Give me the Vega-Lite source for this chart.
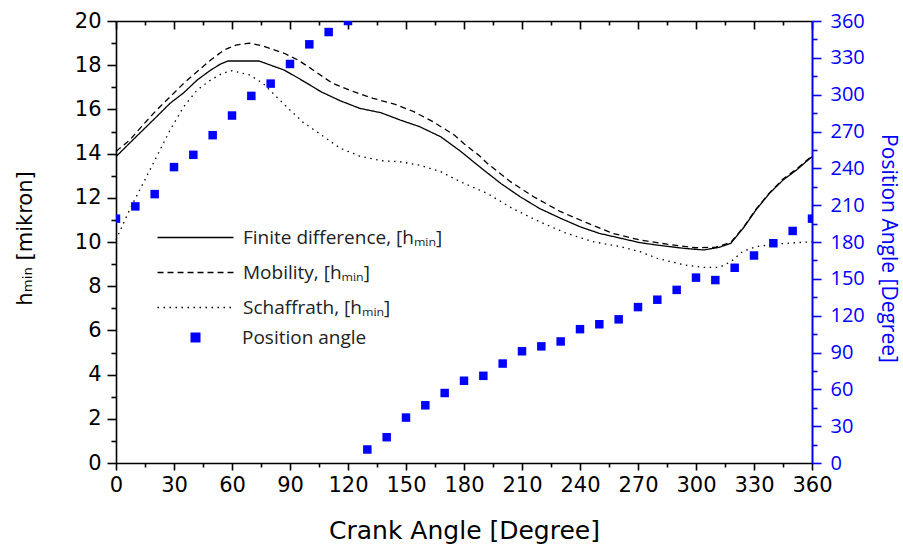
{
  "$schema": "https://vega.github.io/schema/vega-lite/v6.json",
  "width": 696,
  "height": 442,
  "autosize": "none",
  "padding": {"left": 116, "top": 21, "right": 91, "bottom": 84},
  "background": "white",
  "config": {"view": {"stroke": null}, "axis": {"grid": false}},
  "datasets": {
    "lines": [
      {"crank": 0, "h": 13.86, "series": "Finite difference, [hₘᵢₙ]"},
      {"crank": 7, "h": 14.47, "series": "Finite difference, [hₘᵢₙ]"},
      {"crank": 14, "h": 15.07, "series": "Finite difference, [hₘᵢₙ]"},
      {"crank": 21, "h": 15.67, "series": "Finite difference, [hₘᵢₙ]"},
      {"crank": 28, "h": 16.28, "series": "Finite difference, [hₘᵢₙ]"},
      {"crank": 35, "h": 16.75, "series": "Finite difference, [hₘᵢₙ]"},
      {"crank": 42, "h": 17.33, "series": "Finite difference, [hₘᵢₙ]"},
      {"crank": 49, "h": 17.78, "series": "Finite difference, [hₘᵢₙ]"},
      {"crank": 54, "h": 18.05, "series": "Finite difference, [hₘᵢₙ]"},
      {"crank": 58, "h": 18.19, "series": "Finite difference, [hₘᵢₙ]"},
      {"crank": 74, "h": 18.19, "series": "Finite difference, [hₘᵢₙ]"},
      {"crank": 80, "h": 18.0, "series": "Finite difference, [hₘᵢₙ]"},
      {"crank": 87, "h": 17.78, "series": "Finite difference, [hₘᵢₙ]"},
      {"crank": 94, "h": 17.43, "series": "Finite difference, [hₘᵢₙ]"},
      {"crank": 100, "h": 17.12, "series": "Finite difference, [hₘᵢₙ]"},
      {"crank": 106, "h": 16.8, "series": "Finite difference, [hₘᵢₙ]"},
      {"crank": 116, "h": 16.39, "series": "Finite difference, [hₘᵢₙ]"},
      {"crank": 126, "h": 16.05, "series": "Finite difference, [hₘᵢₙ]"},
      {"crank": 137, "h": 15.85, "series": "Finite difference, [hₘᵢₙ]"},
      {"crank": 147, "h": 15.52, "series": "Finite difference, [hₘᵢₙ]"},
      {"crank": 157, "h": 15.22, "series": "Finite difference, [hₘᵢₙ]"},
      {"crank": 168, "h": 14.76, "series": "Finite difference, [hₘᵢₙ]"},
      {"crank": 178, "h": 14.12, "series": "Finite difference, [hₘᵢₙ]"},
      {"crank": 188, "h": 13.41, "series": "Finite difference, [hₘᵢₙ]"},
      {"crank": 199, "h": 12.65, "series": "Finite difference, [hₘᵢₙ]"},
      {"crank": 209, "h": 12.05, "series": "Finite difference, [hₘᵢₙ]"},
      {"crank": 219, "h": 11.52, "series": "Finite difference, [hₘᵢₙ]"},
      {"crank": 230, "h": 11.07, "series": "Finite difference, [hₘᵢₙ]"},
      {"crank": 240, "h": 10.69, "series": "Finite difference, [hₘᵢₙ]"},
      {"crank": 250, "h": 10.39, "series": "Finite difference, [hₘᵢₙ]"},
      {"crank": 261, "h": 10.17, "series": "Finite difference, [hₘᵢₙ]"},
      {"crank": 271, "h": 9.97, "series": "Finite difference, [hₘᵢₙ]"},
      {"crank": 280, "h": 9.86, "series": "Finite difference, [hₘᵢₙ]"},
      {"crank": 294, "h": 9.71, "series": "Finite difference, [hₘᵢₙ]"},
      {"crank": 304, "h": 9.64, "series": "Finite difference, [hₘᵢₙ]"},
      {"crank": 312, "h": 9.76, "series": "Finite difference, [hₘᵢₙ]"},
      {"crank": 318, "h": 9.94, "series": "Finite difference, [hₘᵢₙ]"},
      {"crank": 325, "h": 10.69, "series": "Finite difference, [hₘᵢₙ]"},
      {"crank": 331, "h": 11.45, "series": "Finite difference, [hₘᵢₙ]"},
      {"crank": 338, "h": 12.2, "series": "Finite difference, [hₘᵢₙ]"},
      {"crank": 345, "h": 12.8, "series": "Finite difference, [hₘᵢₙ]"},
      {"crank": 352, "h": 13.26, "series": "Finite difference, [hₘᵢₙ]"},
      {"crank": 360, "h": 13.86, "series": "Finite difference, [hₘᵢₙ]"},
      {"crank": 0, "h": 14.1, "series": "Mobility, [hₘᵢₙ]"},
      {"crank": 7, "h": 14.6, "series": "Mobility, [hₘᵢₙ]"},
      {"crank": 14, "h": 15.3, "series": "Mobility, [hₘᵢₙ]"},
      {"crank": 21, "h": 15.97, "series": "Mobility, [hₘᵢₙ]"},
      {"crank": 28, "h": 16.57, "series": "Mobility, [hₘᵢₙ]"},
      {"crank": 35, "h": 17.18, "series": "Mobility, [hₘᵢₙ]"},
      {"crank": 42, "h": 17.71, "series": "Mobility, [hₘᵢₙ]"},
      {"crank": 49, "h": 18.24, "series": "Mobility, [hₘᵢₙ]"},
      {"crank": 56, "h": 18.69, "series": "Mobility, [hₘᵢₙ]"},
      {"crank": 62, "h": 18.91, "series": "Mobility, [hₘᵢₙ]"},
      {"crank": 69, "h": 19.0, "series": "Mobility, [hₘᵢₙ]"},
      {"crank": 76, "h": 18.87, "series": "Mobility, [hₘᵢₙ]"},
      {"crank": 87, "h": 18.54, "series": "Mobility, [hₘᵢₙ]"},
      {"crank": 94, "h": 18.24, "series": "Mobility, [hₘᵢₙ]"},
      {"crank": 100, "h": 17.9, "series": "Mobility, [hₘᵢₙ]"},
      {"crank": 112, "h": 17.18, "series": "Mobility, [hₘᵢₙ]"},
      {"crank": 123, "h": 16.8, "series": "Mobility, [hₘᵢₙ]"},
      {"crank": 133, "h": 16.5, "series": "Mobility, [hₘᵢₙ]"},
      {"crank": 144, "h": 16.24, "series": "Mobility, [hₘᵢₙ]"},
      {"crank": 154, "h": 15.9, "series": "Mobility, [hₘᵢₙ]"},
      {"crank": 164, "h": 15.44, "series": "Mobility, [hₘᵢₙ]"},
      {"crank": 175, "h": 14.84, "series": "Mobility, [hₘᵢₙ]"},
      {"crank": 180, "h": 14.45, "series": "Mobility, [hₘᵢₙ]"},
      {"crank": 188, "h": 13.9, "series": "Mobility, [hₘᵢₙ]"},
      {"crank": 192, "h": 13.56, "series": "Mobility, [hₘᵢₙ]"},
      {"crank": 204, "h": 12.73, "series": "Mobility, [hₘᵢₙ]"},
      {"crank": 216, "h": 12.05, "series": "Mobility, [hₘᵢₙ]"},
      {"crank": 230, "h": 11.37, "series": "Mobility, [hₘᵢₙ]"},
      {"crank": 244, "h": 10.85, "series": "Mobility, [hₘᵢₙ]"},
      {"crank": 257, "h": 10.39, "series": "Mobility, [hₘᵢₙ]"},
      {"crank": 271, "h": 10.09, "series": "Mobility, [hₘᵢₙ]"},
      {"crank": 285, "h": 9.9, "series": "Mobility, [hₘᵢₙ]"},
      {"crank": 300, "h": 9.74, "series": "Mobility, [hₘᵢₙ]"},
      {"crank": 310, "h": 9.76, "series": "Mobility, [hₘᵢₙ]"},
      {"crank": 318, "h": 9.98, "series": "Mobility, [hₘᵢₙ]"},
      {"crank": 325, "h": 10.72, "series": "Mobility, [hₘᵢₙ]"},
      {"crank": 331, "h": 11.48, "series": "Mobility, [hₘᵢₙ]"},
      {"crank": 338, "h": 12.22, "series": "Mobility, [hₘᵢₙ]"},
      {"crank": 345, "h": 12.85, "series": "Mobility, [hₘᵢₙ]"},
      {"crank": 352, "h": 13.3, "series": "Mobility, [hₘᵢₙ]"},
      {"crank": 360, "h": 13.9, "series": "Mobility, [hₘᵢₙ]"},
      {"crank": 0, "h": 10.1, "series": "Schaffrath, [hₘᵢₙ]"},
      {"crank": 7, "h": 11.45, "series": "Schaffrath, [hₘᵢₙ]"},
      {"crank": 14, "h": 12.65, "series": "Schaffrath, [hₘᵢₙ]"},
      {"crank": 21, "h": 13.86, "series": "Schaffrath, [hₘᵢₙ]"},
      {"crank": 28, "h": 15.07, "series": "Schaffrath, [hₘᵢₙ]"},
      {"crank": 35, "h": 16.12, "series": "Schaffrath, [hₘᵢₙ]"},
      {"crank": 42, "h": 16.88, "series": "Schaffrath, [hₘᵢₙ]"},
      {"crank": 49, "h": 17.33, "series": "Schaffrath, [hₘᵢₙ]"},
      {"crank": 55, "h": 17.63, "series": "Schaffrath, [hₘᵢₙ]"},
      {"crank": 60, "h": 17.75, "series": "Schaffrath, [hₘᵢₙ]"},
      {"crank": 69, "h": 17.56, "series": "Schaffrath, [hₘᵢₙ]"},
      {"crank": 76, "h": 17.18, "series": "Schaffrath, [hₘᵢₙ]"},
      {"crank": 83, "h": 16.57, "series": "Schaffrath, [hₘᵢₙ]"},
      {"crank": 90, "h": 15.97, "series": "Schaffrath, [hₘᵢₙ]"},
      {"crank": 97, "h": 15.4, "series": "Schaffrath, [hₘᵢₙ]"},
      {"crank": 105, "h": 14.92, "series": "Schaffrath, [hₘᵢₙ]"},
      {"crank": 116, "h": 14.24, "series": "Schaffrath, [hₘᵢₙ]"},
      {"crank": 126, "h": 13.89, "series": "Schaffrath, [hₘᵢₙ]"},
      {"crank": 137, "h": 13.68, "series": "Schaffrath, [hₘᵢₙ]"},
      {"crank": 147, "h": 13.63, "series": "Schaffrath, [hₘᵢₙ]"},
      {"crank": 157, "h": 13.48, "series": "Schaffrath, [hₘᵢₙ]"},
      {"crank": 168, "h": 13.18, "series": "Schaffrath, [hₘᵢₙ]"},
      {"crank": 178, "h": 12.73, "series": "Schaffrath, [hₘᵢₙ]"},
      {"crank": 192, "h": 12.2, "series": "Schaffrath, [hₘᵢₙ]"},
      {"crank": 205, "h": 11.52, "series": "Schaffrath, [hₘᵢₙ]"},
      {"crank": 219, "h": 10.92, "series": "Schaffrath, [hₘᵢₙ]"},
      {"crank": 233, "h": 10.39, "series": "Schaffrath, [hₘᵢₙ]"},
      {"crank": 247, "h": 10.01, "series": "Schaffrath, [hₘᵢₙ]"},
      {"crank": 261, "h": 9.79, "series": "Schaffrath, [hₘᵢₙ]"},
      {"crank": 271, "h": 9.56, "series": "Schaffrath, [hₘᵢₙ]"},
      {"crank": 280, "h": 9.26, "series": "Schaffrath, [hₘᵢₙ]"},
      {"crank": 294, "h": 8.96, "series": "Schaffrath, [hₘᵢₙ]"},
      {"crank": 304, "h": 8.85, "series": "Schaffrath, [hₘᵢₙ]"},
      {"crank": 312, "h": 8.85, "series": "Schaffrath, [hₘᵢₙ]"},
      {"crank": 318, "h": 9.11, "series": "Schaffrath, [hₘᵢₙ]"},
      {"crank": 324, "h": 9.56, "series": "Schaffrath, [hₘᵢₙ]"},
      {"crank": 331, "h": 9.79, "series": "Schaffrath, [hₘᵢₙ]"},
      {"crank": 342, "h": 9.91, "series": "Schaffrath, [hₘᵢₙ]"},
      {"crank": 352, "h": 9.97, "series": "Schaffrath, [hₘᵢₙ]"},
      {"crank": 360, "h": 10.01, "series": "Schaffrath, [hₘᵢₙ]"}
    ],
    "angles": [
      {"crank": 0, "angle": 199}, {"crank": 10, "angle": 209}, {"crank": 20, "angle": 219},
      {"crank": 30, "angle": 241}, {"crank": 40, "angle": 251}, {"crank": 50, "angle": 267},
      {"crank": 60, "angle": 283}, {"crank": 70, "angle": 299}, {"crank": 80, "angle": 309},
      {"crank": 90, "angle": 325}, {"crank": 100, "angle": 341}, {"crank": 110, "angle": 351},
      {"crank": 120, "angle": 360}, {"crank": 130, "angle": 11}, {"crank": 140, "angle": 21},
      {"crank": 150, "angle": 37}, {"crank": 160, "angle": 47}, {"crank": 170, "angle": 57},
      {"crank": 180, "angle": 67}, {"crank": 190, "angle": 71}, {"crank": 200, "angle": 81},
      {"crank": 210, "angle": 91}, {"crank": 220, "angle": 95}, {"crank": 230, "angle": 99},
      {"crank": 240, "angle": 109}, {"crank": 250, "angle": 113}, {"crank": 260, "angle": 117},
      {"crank": 270, "angle": 127}, {"crank": 280, "angle": 133}, {"crank": 290, "angle": 141},
      {"crank": 300, "angle": 151}, {"crank": 310, "angle": 149}, {"crank": 320, "angle": 159},
      {"crank": 330, "angle": 169}, {"crank": 340, "angle": 179}, {"crank": 350, "angle": 189},
      {"crank": 360, "angle": 199}
    ]
  },
  "resolve": {"scale": {"y": "independent"}, "axis": {"x": "independent", "y": "independent"}},
  "layer": [
    {
      "data": {"name": "lines"},
      "mark": {"type": "line", "color": "black", "strokeWidth": 1.3},
      "encoding": {
        "x": {"field": "crank", "type": "quantitative", "scale": {"domain": [0, 360], "nice": false},
          "axis": {"orient": "bottom", "values": [0, 30, 60, 90, 120, 150, 180, 210, 240, 270, 300, 330, 360],
            "domainColor": "black", "domainWidth": 1.6, "tickColor": "black", "tickWidth": 1.6, "tickSize": 7,
            "labelFont": "DejaVu Sans", "labelFontSize": 21, "labelColor": "black", "labelPadding": 4, "labelFlush": false,
            "title": "Crank Angle [Degree]", "titleFont": "DejaVu Sans", "titleFontSize": 25, "titleFontWeight": "normal",
            "titleColor": "black", "titleX": 348, "titleY": 67, "titleBaseline": "middle", "titleAlign": "center"}},
        "y": {"field": "h", "type": "quantitative", "scale": {"domain": [0, 20], "nice": false},
          "axis": {"orient": "left", "values": [0, 2, 4, 6, 8, 10, 12, 14, 16, 18, 20],
            "domainColor": "black", "domainWidth": 1.6, "tickColor": "black", "tickWidth": 1.6, "tickSize": 9,
            "labelFont": "DejaVu Sans", "labelFontSize": 21, "labelColor": "black", "labelPadding": 6, "labelFlush": false,
            "title": "hₘᵢₙ [mikron]", "titleFont": "DejaVu Sans", "titleFontSize": 21, "titleFontWeight": "normal",
            "titleColor": "black", "titleX": -91, "titleY": 217, "titleAngle": -90, "titleBaseline": "middle", "titleAlign": "center"}},
        "strokeDash": {"field": "series", "type": "nominal",
          "scale": {"domain": ["Finite difference, [hₘᵢₙ]", "Mobility, [hₘᵢₙ]", "Schaffrath, [hₘᵢₙ]"],
            "range": [[1, 0], [6, 4], [1.5, 4.5]]},
          "legend": {"orient": "none", "legendX": 69, "legendY": 206, "title": null, "padding": 0,
            "symbolType": "M -4,0 L 4,0", "symbolSize": 361, "symbolStrokeWidth": 1.3, "symbolStrokeColor": "black",
            "labelFont": "Open Sans", "labelFontSize": 19, "labelColor": "#222", "labelOffset": 37, "labelLimit": 0, "rowPadding": 14}}
      }
    },
    {
      "data": {"name": "lines"},
      "mark": {"type": "point", "opacity": 0},
      "encoding": {
        "x": {"field": "crank", "type": "quantitative",
          "axis": {"orient": "bottom", "values": [15, 45, 75, 105, 135, 165, 195, 225, 255, 285, 315, 345],
            "domain": false, "labels": false, "tickColor": "black", "tickWidth": 1.6, "tickSize": 4, "title": null}},
        "y": {"field": "h", "type": "quantitative", "scale": {"domain": [0, 20], "nice": false},
          "axis": {"orient": "left", "values": [1, 3, 5, 7, 9, 11, 13, 15, 17, 19],
            "domain": false, "labels": false, "tickColor": "black", "tickWidth": 1.6, "tickSize": 5, "title": null}}
      }
    },
    {
      "data": {"name": "lines"},
      "mark": {"type": "point", "opacity": 0},
      "encoding": {
        "x": {"field": "crank", "type": "quantitative",
          "axis": {"orient": "top", "values": [0, 30, 60, 90, 120, 150, 180, 210, 240, 270, 300, 330, 360],
            "domainColor": "black", "domainWidth": 1.6, "labels": false, "tickColor": "black", "tickWidth": 1.6, "tickSize": -8, "title": null}},
        "y": {"field": "h", "type": "quantitative", "scale": {"domain": [0, 20], "nice": false}, "axis": null}
      }
    },
    {
      "data": {"name": "lines"},
      "mark": {"type": "point", "opacity": 0},
      "encoding": {
        "x": {"field": "crank", "type": "quantitative",
          "axis": {"orient": "top", "values": [15, 45, 75, 105, 135, 165, 195, 225, 255, 285, 315, 345],
            "domain": false, "labels": false, "tickColor": "black", "tickWidth": 1.6, "tickSize": -4, "title": null}},
        "y": {"field": "h", "type": "quantitative", "scale": {"domain": [0, 20], "nice": false}, "axis": null}
      }
    },
    {
      "data": {"name": "angles"},
      "mark": {"type": "square", "filled": true, "opacity": 1, "size": 72, "clip": true},
      "encoding": {
        "x": {"field": "crank", "type": "quantitative", "axis": null},
        "y": {"field": "angle", "type": "quantitative", "scale": {"domain": [0, 360], "nice": false},
          "axis": {"orient": "right", "values": [0, 30, 60, 90, 120, 150, 180, 210, 240, 270, 300, 330, 360],
            "domainColor": "#0000ff", "domainWidth": 2, "tickColor": "#0000ff", "tickWidth": 1.6, "tickSize": 9,
            "labelFont": "Open Sans", "labelFontSize": 20, "labelColor": "#0000ff", "labelPadding": 9, "labelFlush": false,
            "title": "Position Angle [Degree]", "titleFont": "Open Sans", "titleFontSize": 21, "titleFontWeight": "normal",
            "titleColor": "#0000ff", "titleX": 75, "titleY": 227, "titleAngle": 90, "titleBaseline": "middle", "titleAlign": "center"}},
        "color": {"datum": "Position angle", "type": "nominal", "scale": {"range": ["#0000ff"]},
          "legend": {"orient": "none", "legendX": 70, "legendY": 307, "title": null, "padding": 0,
            "symbolType": "square", "symbolSize": 100, "labelFont": "Open Sans", "labelFontSize": 19, "labelColor": "#222", "labelOffset": 37, "labelLimit": 0}}
      }
    },
    {
      "data": {"name": "angles"},
      "mark": {"type": "point", "opacity": 0},
      "encoding": {
        "x": {"field": "crank", "type": "quantitative", "axis": null},
        "y": {"field": "angle", "type": "quantitative", "scale": {"domain": [0, 360], "nice": false},
          "axis": {"orient": "right", "values": [15, 45, 75, 105, 135, 165, 195, 225, 255, 285, 315, 345],
            "domain": false, "labels": false, "tickColor": "#0000ff", "tickWidth": 1.6, "tickSize": 5, "title": null}}
      }
    }
  ]
}
